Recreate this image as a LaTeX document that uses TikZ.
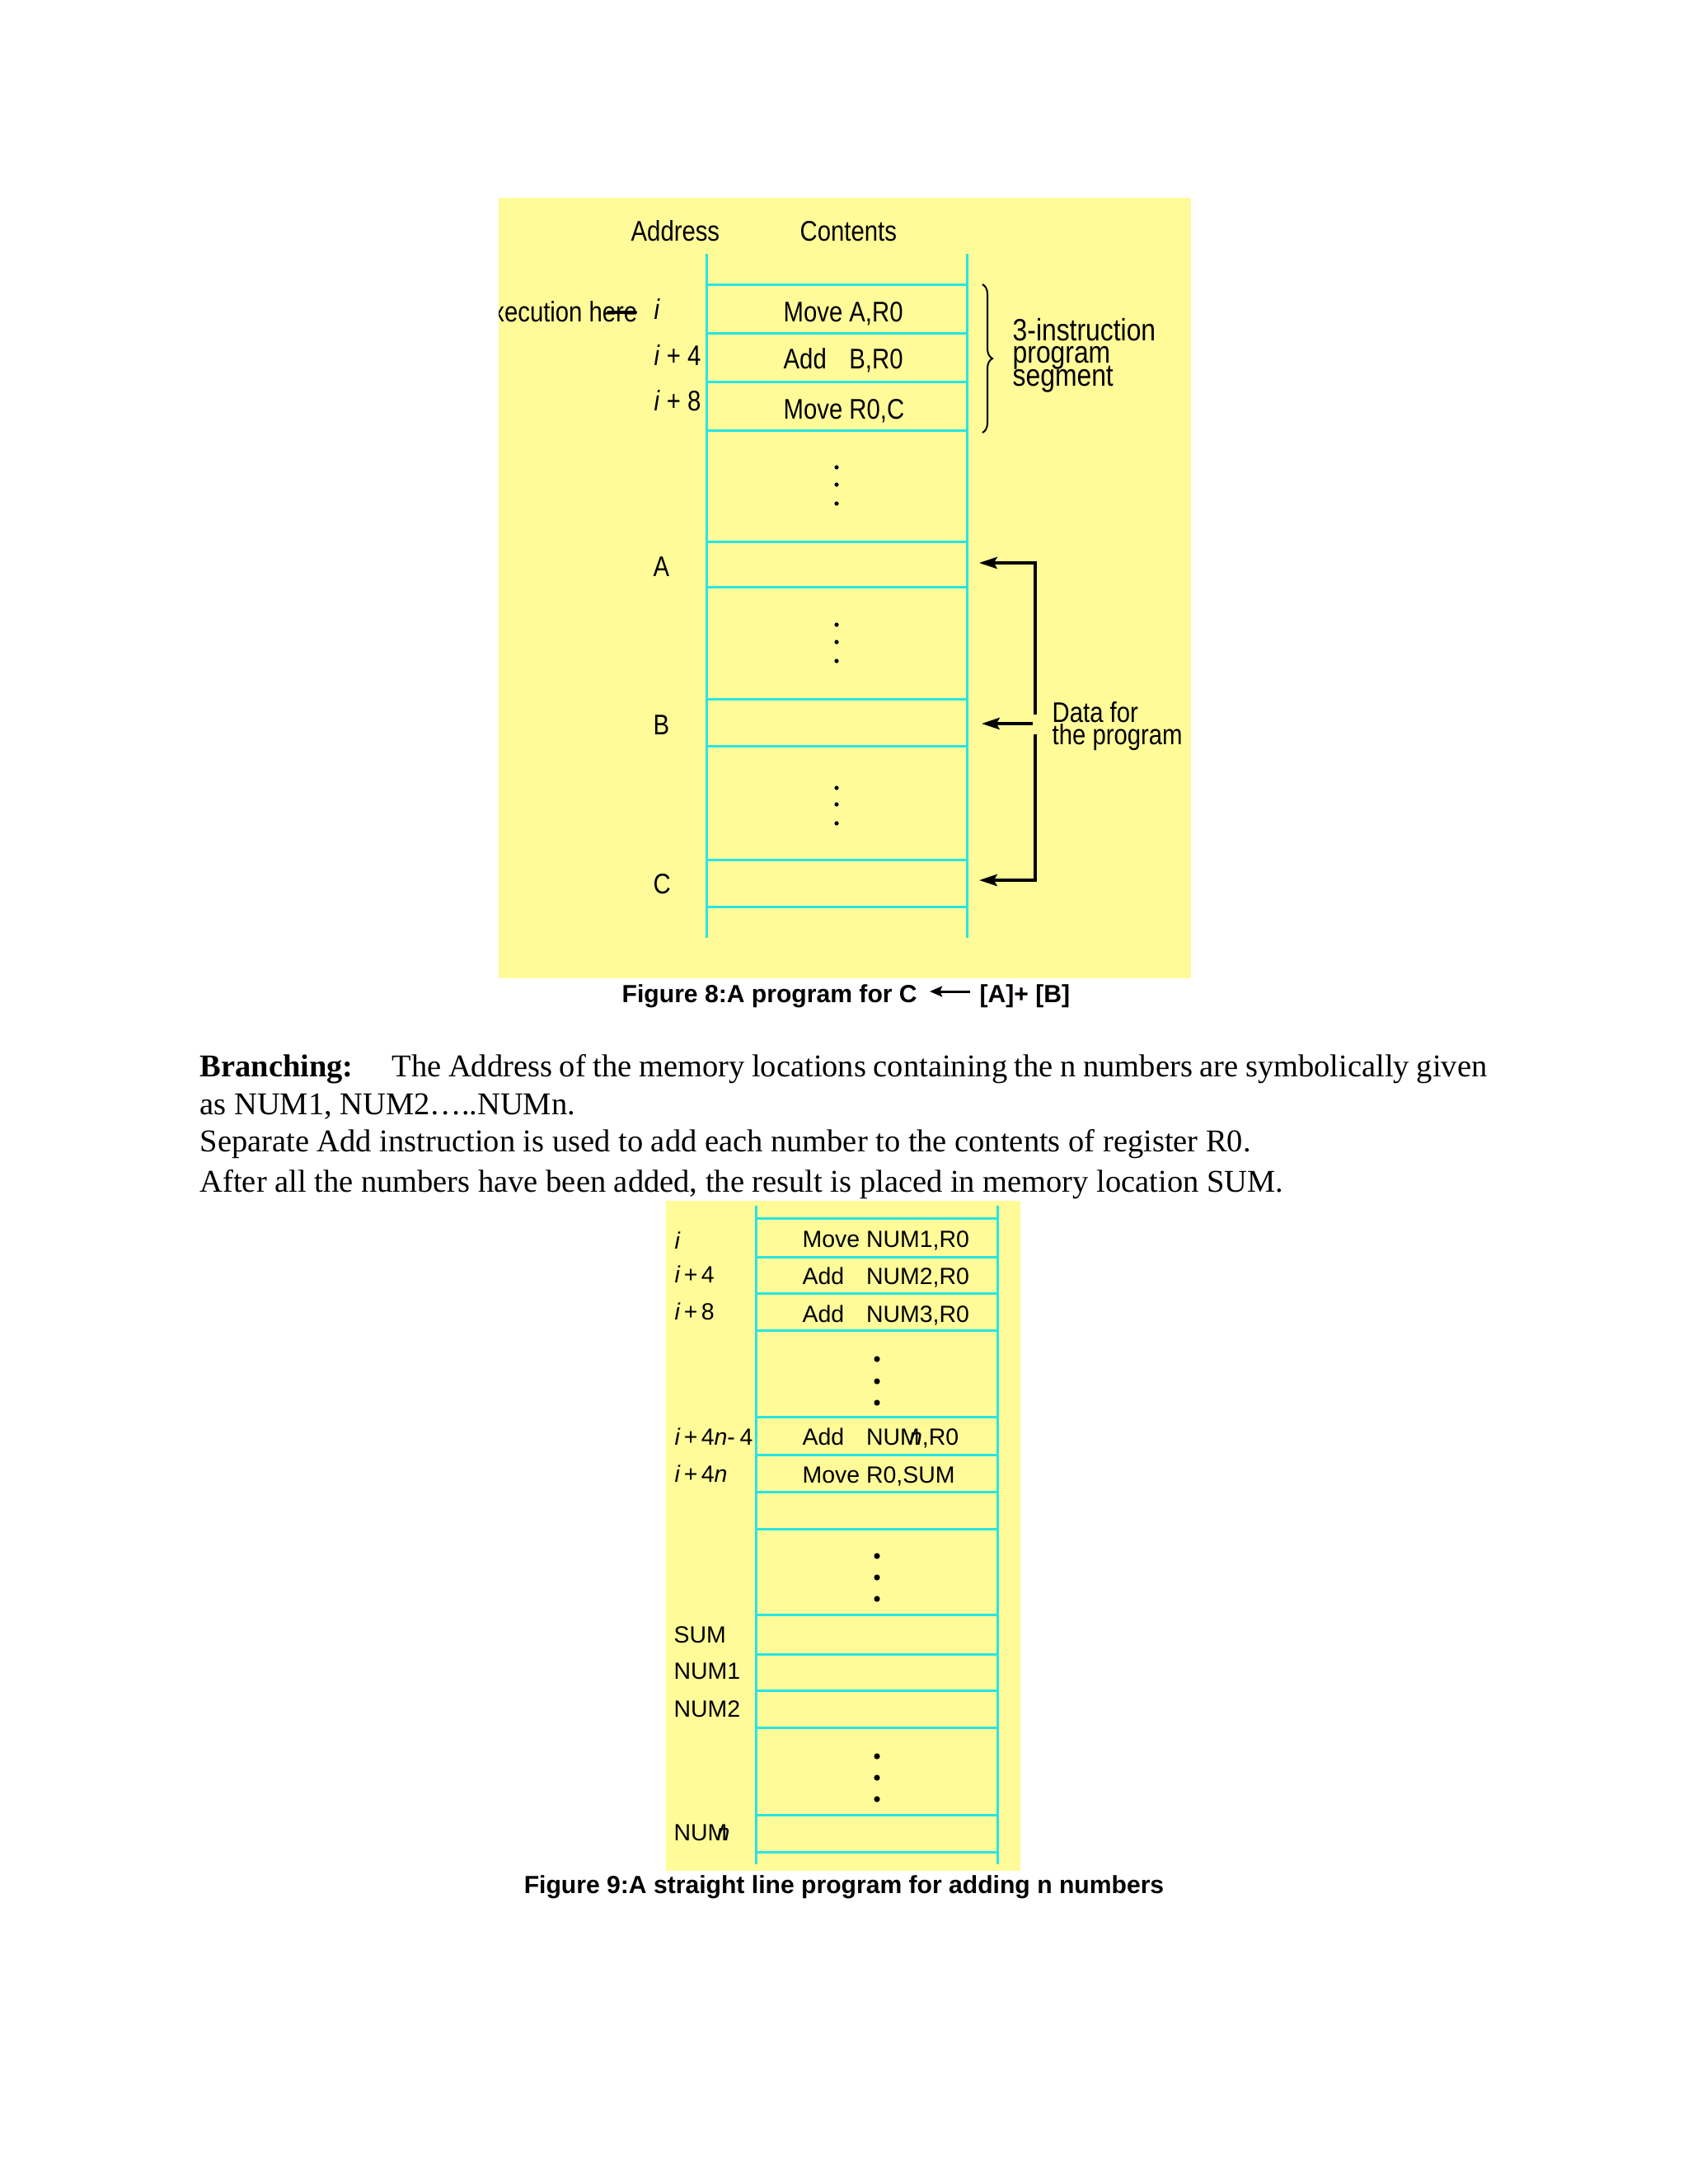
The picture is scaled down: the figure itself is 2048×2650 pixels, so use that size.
\documentclass[tikz,border=0pt]{standalone}
\usepackage{fontspec}
\setmainfont{Liberation Serif}
\newfontfamily\narrowfont[FakeStretch=0.85]{Liberation Sans}
\newfontfamily\arialfont{Liberation Sans}
\usetikzlibrary{arrows.meta,decorations.pathreplacing}
\definecolor{memyellow}{RGB}{255,251,153}
\definecolor{memcyan}{RGB}{40,228,228}
\newcommand\addpad{\setbox0=\hbox{Move }\hbox to\wd0{Add\hfil}}
\newcommand\numn{NUM\kern-0.45em\textit{n}}
\begin{document}
\begin{tikzpicture}[x=0.29883pt,y=-0.29883pt,
  cellline/.style={draw=memcyan, line width=0.9pt},
  fa/.style={font=\narrowfont\fontsize{10.3}{12}\selectfont, inner sep=0pt, anchor=base west},
  fb/.style={font=\narrowfont\fontsize{11.2}{12}\selectfont, inner sep=0pt, anchor=base west},
  fn/.style={font=\arialfont\fontsize{8.5}{10}\selectfont, inner sep=0pt, anchor=base west},
  bodytxt/.style={font=\fontsize{11.5}{14}\selectfont, inner sep=0pt, anchor=base west},
  captxt/.style={font=\arialfont\bfseries\fontsize{9}{11}\selectfont, inner sep=0pt},
  dataarrow/.style={line width=1.15pt, -{Stealth[length=6.5pt,width=4.2pt,inset=1.2pt]}},
  caparrow/.style={line width=0.9pt, -{Stealth[length=4.5pt,width=3.8pt,inset=0.8pt]}}
]
\fill[white] (0,0) rectangle (2048,2650);
\useasboundingbox (0,0) rectangle (2048,2650);

% ================= Figure 8 =================
\fill[memyellow] (605,240) rectangle (1445,1187);
\foreach \yy in {345,404,463,522,657,712,848,905,1043,1100}
  \draw[cellline] (857,\yy) -- (1173,\yy);
\draw[cellline] (857,308) -- (857,1138);
\draw[cellline] (1173,308) -- (1173,1138);

\node[fa] (hAddr) at (765,292) {Address};
\node[fa] (hCont) at (970,292) {Contents};

\begin{scope}
  \clip (605,240) rectangle (1445,1187);
  \node[fa, anchor=base east] (exec) at (774,390) {execution here};
\end{scope}
\coordinate (hereL) at (738,379);
\coordinate (hereR) at (771,379);
\draw[line width=1.2pt, line cap=round] (hereL) -- (hereR);

\node[fa] (ai)  at (793,387) {\textit{i}};
\node[fa] (ai4) at (793,443) {\textit{i} + 4};
\node[fa] (ai8) at (793,498) {\textit{i} + 8};
\node[fa] (c1) at (950,390) {Move A,R0};
\node[fa] (c2) at (950,447) {\addpad B,R0};
\node[fa] (c3) at (950,508) {Move R0,C};

\node[fa] (aA) at (792,699) {A};
\node[fa] (aB) at (792,891) {B};
\node[fa] (aC) at (792,1084) {C};

\foreach \yy in {567,588,611,758,779,802,956,976,999}
  \fill (1015,\yy) circle[radius=2.6];

% brace
\draw[line width=0.6pt, decorate, decoration={brace, amplitude=3.6pt, aspect=0.5}]
  (1192,345) -- (1192,525);
\node[fb] (s1) at (1228,413) {3-instruction};
\node[fb] (s2) at (1228,440) {program};
\node[fb] (s3) at (1228,468) {segment};

% data arrows
\coordinate (tipA) at (1188,683);
\coordinate (tipB) at (1191,878);
\coordinate (tipC) at (1188,1068);
\coordinate (cornA) at (1256,683);
\coordinate (cornC) at (1256,1068);
\coordinate (gapT) at (1256,867);
\coordinate (gapB) at (1256,891);
\coordinate (startB) at (1253,878);
\draw[dataarrow] (gapT) -- (cornA) -- (tipA);
\draw[dataarrow] (gapB) -- (cornC) -- (tipC);
\draw[dataarrow] (startB) -- (tipB);
\node[fa] (d1) at (1276,876) {Data for};
\node[fa] (d2) at (1276,903) {the program};

% caption 8
\node[captxt, anchor=base west] (cap8a) at (754,1216) {Figure 8:A program for C};
\node[captxt, anchor=base west] (cap8b) at (1188,1216) {[A]+ [B]};
\coordinate (caS) at (1177,1203);
\coordinate (caE) at (1128,1203);
\draw[caparrow] (caS) -- (caE);

% ================= Body text =================
\node[bodytxt] (b1) at (242,1306) {\textbf{Branching:}};
\node[bodytxt] (b1r) at (475,1306) {\hbox to 397pt{The Address of the memory locations containing the n numbers are symbolically given}};
\node[bodytxt] (b2) at (242,1352) {as NUM1, NUM2…..NUMn.};
\node[bodytxt] (b3) at (242,1397) {Separate Add instruction is used to add each number to the contents of register R0.};
\node[bodytxt] (b4) at (242,1446) {After all the numbers have been added, the result is placed in memory location SUM.};

% ================= Figure 9 =================
\fill[memyellow] (808,1457) rectangle (1238,2270);
\foreach \yy in {1478,1525,1569,1614,1719,1765,1810,1855,1959,2007,2051,2096,2202,2247}
  \draw[cellline] (917,\yy) -- (1210,\yy);
\draw[cellline] (917,1463) -- (917,2262);
\draw[cellline] (1210,1463) -- (1210,2262);

\node[fn] (ni)   at (818,1515) {\textit{i}};
\node[fn] (ni4)  at (818,1556) {\textit{i}\hspace{0.15em}+\hspace{0.15em}4};
\node[fn] (ni8)  at (818,1601) {\textit{i}\hspace{0.15em}+\hspace{0.15em}8};
\node[fn] (nin4) at (818,1753) {\textit{i}\hspace{0.15em}+\hspace{0.15em}4\textit{n}-\hspace{0.2em}4};
\node[fn] (nin)  at (818,1798) {\textit{i}\hspace{0.15em}+\hspace{0.15em}4\textit{n}};
\node[fn] (nsum) at (817,1993) {SUM};
\node[fn] (nn1)  at (817,2037) {NUM1};
\node[fn] (nn2)  at (817,2083) {NUM2};
\node[fn] (nnn)  at (817,2233) {\numn};

\node[fn] (m1) at (973,1513) {Move NUM1,R0};
\node[fn] (m2) at (973,1558) {\addpad NUM2,R0};
\node[fn] (m3) at (973,1604) {\addpad NUM3,R0};
\node[fn] (m4) at (973,1753) {\addpad \numn,R0};
\node[fn] (m5) at (973,1799) {Move R0,SUM};

\foreach \yy in {1649,1676,1702,1888,1914,1940,2131,2157,2183}
  \fill (1064,\yy) circle[radius=3.6];

\node[captxt, anchor=base] (cap9) at (1024,2297) {Figure 9:A straight line program for adding n numbers};
\end{tikzpicture}
\end{document}
